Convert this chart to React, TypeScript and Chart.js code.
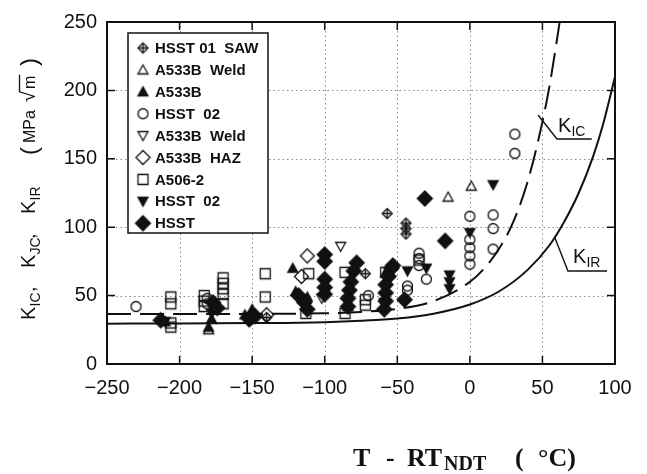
import React, { useEffect, useRef } from "react";
import { Chart, registerables } from "chart.js";

Chart.register(...registerables);

const W = 647;
const H = 474;

// Axes
const xMin = -250;
const xMax = 100;
const yMin = 0;
const yMax = 250;
const xGridValues = [-200, -150, -100, -50, 0, 50];
const yGridValues = [50, 100, 150, 200];

// Reference curves
const kirT = [-250, -200, -150, -100, -75, -50, -25, 0, 20, 40, 55, 65, 75, 85, 92, 100];
const kirK = [29.5, 29.6, 29.9, 30.6, 31.6, 33.3, 36.8, 43.5, 53, 69, 87, 104, 125, 152, 176, 210];
const kicT = [-250, -150, -100, -75, -50, -25, 0, 10, 20, 30, 40, 50, 55, 60, 63];
const kicK = [36.5, 36.6, 37.1, 38.1, 40.3, 46, 60, 70, 84, 104, 134, 177, 204, 237, 258];

// Data series
const saw01T = [-152, -140, -72, -57, -44, -44, -44];
const saw01K = [31, 34, 66, 110, 103, 99, 95];

const weldUpT = [-180, -15, 1];
const weldUpK = [25, 122, 130];

const a533bT = [-210, -180, -178, -155, -150, -122, -120, -112, -84, -58];
const a533bK = [31, 27, 33, 36, 40, 70, 53, 49, 42, 67];

const hsst02oT = [-230, -181, -181, -70, -43, -43, -35, -35, -35, -30, 0, 0, 0, 0, 0, 16, 16, 16, 31, 31];
const hsst02oK = [42, 48, 44, 50, 57, 54, 81, 77, 72, 62, 108, 91, 85, 79, 73, 109, 99, 84, 168, 154];

const weldDownT = [-89, -102];
const weldDownK = [86, 48];

const hazT = [-112, -116, -140];
const hazK = [79, 64, 36];

const a506T = [-206, -206, -206, -206, -183, -183, -183, -170, -170, -170, -170, -170, -141, -141, -111, -113, -86, -86, -72, -72, -58, -35];
const a506K = [49, 44, 30, 27, 50, 46, 42, 63, 59, 55, 51, 44, 66, 49, 66, 37, 67, 37, 47, 43, 67, 76];

const hsst02fT = [-210, -178, -150, -84, -59, -43, -30, -14, -14, -14, 0, 16];
const hsst02fK = [31, 37, 33, 47, 45, 68, 70, 65, 60, 55, 96, 131];

const hsstT = [-213, -177, -174, -152, -148, -118, -114, -112, -100, -100, -100, -100, -100, -78, -80, -82, -83, -84, -84, -54, -56, -58, -58, -58, -59, -53, -45, -31, -17];
const hsstK = [32, 45, 41, 33, 35, 50, 45, 40, 80, 75, 62, 56, 51, 74, 68, 60, 54, 48, 42, 70, 64, 58, 52, 46, 40, 72, 47, 121, 90];

const seriesLabels = [
  "HSST 01  SAW",
  "A533B  Weld",
  "A533B",
  "HSST  02",
  "A533B  Weld",
  "A533B  HAZ",
  "A506-2",
  "HSST  02",
  "HSST",
];
const seriesKinds = ["saw", "triUp", "triUpF", "circle", "triDown", "diamond", "square", "triDownF", "diamondF"];

const INK = "#111";

function drawMarker(ctx: CanvasRenderingContext2D, kind: string, cx: number, cy: number) {
  ctx.save();
  ctx.strokeStyle = INK;
  ctx.fillStyle = INK;
  ctx.lineWidth = 1.3;
  ctx.beginPath();
  switch (kind) {
    case "saw": {
      const r = 5;
      ctx.moveTo(cx, cy - r);
      ctx.lineTo(cx + r, cy);
      ctx.lineTo(cx, cy + r);
      ctx.lineTo(cx - r, cy);
      ctx.closePath();
      ctx.stroke();
      ctx.beginPath();
      ctx.moveTo(cx - r + 1, cy);
      ctx.lineTo(cx + r - 1, cy);
      ctx.moveTo(cx, cy - r + 1);
      ctx.lineTo(cx, cy + r - 1);
      ctx.stroke();
      break;
    }
    case "triUp":
    case "triUpF": {
      ctx.moveTo(cx, cy - 5);
      ctx.lineTo(cx + 5, cy + 4);
      ctx.lineTo(cx - 5, cy + 4);
      ctx.closePath();
      if (kind === "triUpF") ctx.fill();
      ctx.stroke();
      break;
    }
    case "triDown":
    case "triDownF": {
      ctx.moveTo(cx, cy + 5);
      ctx.lineTo(cx + 5, cy - 4);
      ctx.lineTo(cx - 5, cy - 4);
      ctx.closePath();
      if (kind === "triDownF") ctx.fill();
      ctx.stroke();
      break;
    }
    case "circle": {
      ctx.arc(cx, cy, 5, 0, Math.PI * 2);
      ctx.stroke();
      break;
    }
    case "square": {
      ctx.rect(cx - 5, cy - 5, 10, 10);
      ctx.stroke();
      break;
    }
    case "diamond":
    case "diamondF": {
      const r = kind === "diamondF" ? 7.5 : 7;
      ctx.moveTo(cx, cy - r);
      ctx.lineTo(cx + r, cy);
      ctx.lineTo(cx, cy + r);
      ctx.lineTo(cx - r, cy);
      ctx.closePath();
      if (kind === "diamondF") ctx.fill();
      ctx.stroke();
      break;
    }
  }
  ctx.restore();
}

function makeMarkerCanvas(kind: string): HTMLCanvasElement {
  const c = document.createElement("canvas");
  c.width = 19;
  c.height = 19;
  const ctx = c.getContext("2d")!;
  drawMarker(ctx, kind, 9.5, 9.5);
  return c;
}

type Part = { t: string; font: string; x: number; dy?: number };

function drawParts(ctx: CanvasRenderingContext2D, parts: Part[]) {
  for (const p of parts) {
    ctx.font = p.font;
    ctx.fillText(p.t, p.x, p.dy || 0);
  }
}

const SANS = "'Liberation Sans', Arial, sans-serif";
const SERIF = "'Liberation Serif', 'Times New Roman', serif";

const decorPlugin = {
  id: "decor",
  beforeDatasetsDraw(chart: any) {
    const { ctx, chartArea: a, scales } = chart;
    const xs = scales.x;
    const ys = scales.y;
    ctx.save();
    ctx.strokeStyle = "#8a8a8a";
    ctx.lineWidth = 1;
    ctx.setLineDash([1.5, 3]);
    for (const v of xGridValues) {
      const px = Math.round(xs.getPixelForValue(v)) + 0.5;
      ctx.beginPath();
      ctx.moveTo(px, a.top);
      ctx.lineTo(px, a.bottom);
      ctx.stroke();
    }
    for (const v of yGridValues) {
      const py = Math.round(ys.getPixelForValue(v)) + 0.5;
      ctx.beginPath();
      ctx.moveTo(a.left, py);
      ctx.lineTo(a.right, py);
      ctx.stroke();
    }
    ctx.restore();
  },
  afterDatasetsDraw(chart: any) {
    const { ctx, chartArea: a, scales } = chart;
    const xs = scales.x;
    const ys = scales.y;
    const X = (v: number) => xs.getPixelForValue(v);
    const Y = (v: number) => ys.getPixelForValue(v);
    ctx.save();
    ctx.strokeStyle = INK;
    ctx.fillStyle = INK;
    ctx.setLineDash([]);

    // frame
    ctx.lineWidth = 2;
    ctx.strokeRect(a.left, a.top, a.right - a.left, a.bottom - a.top);

    // inward ticks
    ctx.lineWidth = 1.5;
    const tl = 8;
    for (const v of xGridValues) {
      const px = X(v);
      ctx.beginPath();
      ctx.moveTo(px, a.bottom);
      ctx.lineTo(px, a.bottom - tl);
      ctx.moveTo(px, a.top);
      ctx.lineTo(px, a.top + tl);
      ctx.stroke();
    }
    for (const v of yGridValues) {
      const py = Y(v);
      ctx.beginPath();
      ctx.moveTo(a.left, py);
      ctx.lineTo(a.left + tl, py);
      ctx.moveTo(a.right, py);
      ctx.lineTo(a.right - tl, py);
      ctx.stroke();
    }

    // curve labels with leaders
    ctx.lineWidth = 1.4;
    ctx.beginPath();
    ctx.moveTo(X(47), Y(182));
    ctx.lineTo(X(60), Y(164.5));
    ctx.lineTo(X(84), Y(164.5));
    ctx.moveTo(X(58.7), Y(92));
    ctx.lineTo(X(67.6), Y(68));
    ctx.lineTo(X(94.5), Y(68));
    ctx.stroke();
    ctx.textBaseline = "alphabetic";
    ctx.textAlign = "left";
    ctx.save();
    ctx.translate(X(60.7), Y(169.6));
    drawParts(ctx, [
      { t: "K", font: `20px ${SANS}`, x: 0 },
      { t: "IC", font: `14px ${SANS}`, x: 13.5, dy: 4 },
    ]);
    ctx.restore();
    ctx.save();
    ctx.translate(X(71), Y(74));
    drawParts(ctx, [
      { t: "K", font: `20px ${SANS}`, x: 0 },
      { t: "IR", font: `14px ${SANS}`, x: 13.5, dy: 4 },
    ]);
    ctx.restore();

    // legend
    const lx = 128, ly = 33, lw = 140, lh = 200;
    ctx.fillStyle = "#fff";
    ctx.fillRect(lx, ly, lw, lh);
    ctx.lineWidth = 1.5;
    ctx.strokeRect(lx, ly, lw, lh);
    ctx.fillStyle = INK;
    ctx.font = `bold 15px ${SANS}`;
    ctx.textBaseline = "middle";
    const markers = chart.$markers as HTMLCanvasElement[];
    for (let i = 0; i < seriesLabels.length; i++) {
      const ry = ly + 15 + i * 21.9;
      const m = markers[i];
      ctx.drawImage(m, 143 - m.width / 2, ry - m.height / 2);
      ctx.fillText(seriesLabels[i], 155, ry + 1);
    }
    ctx.restore();
  },
  afterDraw(chart: any) {
    const { ctx } = chart;
    ctx.save();
    ctx.fillStyle = INK;
    ctx.strokeStyle = INK;
    ctx.textAlign = "left";
    ctx.textBaseline = "alphabetic";

    // x-axis title
    ctx.save();
    ctx.translate(0, 466);
    drawParts(ctx, [
      { t: "T", font: `bold 26px ${SERIF}`, x: 353 },
      { t: "-", font: `bold 26px ${SERIF}`, x: 386 },
      { t: "RT", font: `bold 26px ${SERIF}`, x: 407 },
      { t: "NDT", font: `bold 20px ${SERIF}`, x: 444, dy: 4 },
      { t: "(", font: `bold 26px ${SERIF}`, x: 515 },
      { t: "°C)", font: `bold 26px ${SERIF}`, x: 538 },
    ]);
    ctx.restore();

    // y-axis title (rotated)
    ctx.save();
    ctx.translate(35, 320);
    ctx.rotate(-Math.PI / 2);
    drawParts(ctx, [
      { t: "K", font: `20px ${SANS}`, x: 0 },
      { t: "IC", font: `14px ${SANS}`, x: 13.5, dy: 5 },
      { t: ",", font: `20px ${SANS}`, x: 28 },
      { t: "K", font: `20px ${SANS}`, x: 52 },
      { t: "JC", font: `14px ${SANS}`, x: 65.5, dy: 5 },
      { t: ",", font: `20px ${SANS}`, x: 81 },
      { t: "K", font: `20px ${SANS}`, x: 106 },
      { t: "IR", font: `14px ${SANS}`, x: 119.5, dy: 5 },
      { t: "(", font: `24px ${SANS}`, x: 165, dy: 2 },
      { t: "MPa", font: `16px ${SANS}`, x: 177 },
      { t: "√", font: `20px ${SANS}`, x: 218 },
      { t: "m", font: `16px ${SANS}`, x: 231 },
      { t: ")", font: `24px ${SANS}`, x: 254, dy: 2 },
    ]);
    ctx.font = `16px ${SANS}`;
    const mw = ctx.measureText("m").width;
    ctx.lineWidth = 1.3;
    ctx.beginPath();
    ctx.moveTo(228, -15.5);
    ctx.lineTo(231 + mw + 1, -15.5);
    ctx.stroke();
    ctx.restore();

    ctx.restore();
  },
};

const fmt = (v: number) => String(v).replace("-", "\u2212");

export default function App() {
  const ref = useRef<HTMLCanvasElement>(null);
  useEffect(() => {
    const canvas = ref.current!;
    const markers = seriesKinds.map((k) => makeMarkerCanvas(k));
    const pts = (T: number[], K: number[]) => T.map((t, i) => ({ x: t, y: K[i] }));
    const seriesT = [saw01T, weldUpT, a533bT, hsst02oT, weldDownT, hazT, a506T, hsst02fT, hsstT];
    const seriesK = [saw01K, weldUpK, a533bK, hsst02oK, weldDownK, hazK, a506K, hsst02fK, hsstK];

    const datasets: any[] = seriesLabels.map((label, i) => ({
      label,
      data: pts(seriesT[i], seriesK[i]),
      pointStyle: markers[i],
      pointRadius: 5,
      pointHoverRadius: 5,
      showLine: false,
      order: 9 - i,
    }));
    datasets.push({
      label: "KIC",
      data: pts(kicT, kicK),
      showLine: true,
      borderColor: INK,
      borderWidth: 2,
      borderDash: [24, 9],
      pointRadius: 0,
      cubicInterpolationMode: "monotone",
      order: 20,
    });
    datasets.push({
      label: "KIR",
      data: pts(kirT, kirK),
      showLine: true,
      borderColor: INK,
      borderWidth: 2,
      pointRadius: 0,
      cubicInterpolationMode: "monotone",
      order: 20,
    });

    const chart: any = new Chart(canvas, {
      type: "scatter",
      data: { datasets },
      options: {
        responsive: false,
        animation: false,
        events: [],
        layout: { padding: { left: 0, right: 32, top: 19, bottom: 0 } },
        plugins: { legend: { display: false }, tooltip: { enabled: false } },
        scales: {
          x: {
            type: "linear",
            min: xMin,
            max: xMax,
            ticks: {
              stepSize: 50,
              color: INK,
              font: { family: SANS, size: 20 },
              padding: 12,
              callback: (v: any) => fmt(Number(v)),
            },
            grid: { display: false, drawTicks: false },
            border: { display: false },
            afterFit: (s: any) => {
              s.height = 110;
            },
          },
          y: {
            type: "linear",
            min: yMin,
            max: yMax,
            ticks: {
              stepSize: 50,
              color: INK,
              font: { family: SANS, size: 20 },
              padding: 10,
              callback: (v: any) => fmt(Number(v)),
            },
            grid: { display: false, drawTicks: false },
            border: { display: false },
            afterFit: (s: any) => {
              s.width = 107;
            },
          },
        },
      } as any,
      plugins: [
        {
          id: "markersRef",
          beforeInit(c: any) {
            c.$markers = markers;
          },
        },
        decorPlugin,
      ],
    });
    return () => chart.destroy();
  }, []);

  return (
    <div style={{ position: "absolute", left: 0, top: 0, width: W, height: H, background: "#fff" }}>
      <canvas ref={ref} width={W} height={H} style={{ display: "block" }} />
    </div>
  );
}
